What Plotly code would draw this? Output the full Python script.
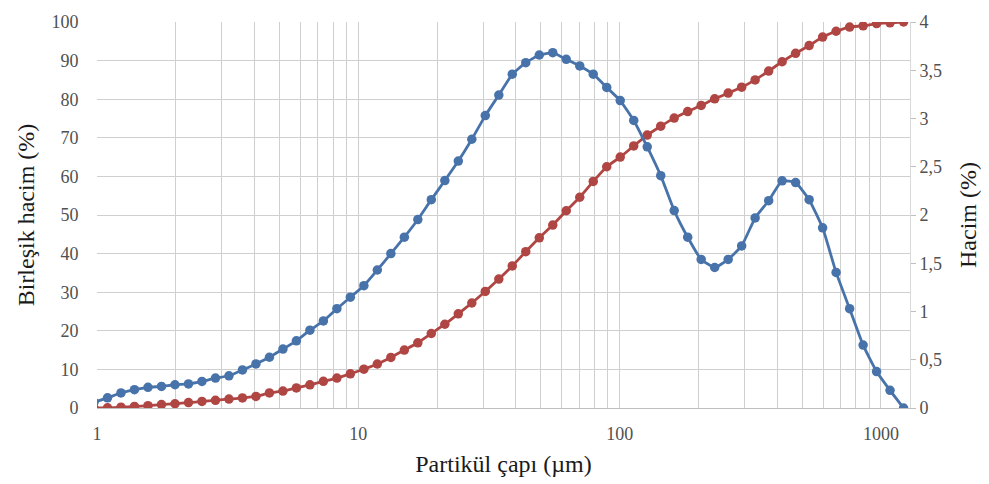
import plotly.graph_objects as go

# Particle diameter (µm), log-spaced size classes
diameter = [0.974, 1.097, 1.235, 1.391, 1.567, 1.765, 1.988, 2.239, 2.521, 2.840, 3.198,
            3.602, 4.057, 4.569, 5.146, 5.794, 6.527, 7.350, 8.278, 9.322, 10.50,
            11.82, 13.32, 15.00, 16.89, 19.02, 21.43, 24.13, 27.18, 30.61, 34.48,
            38.82, 43.72, 49.25, 55.46, 62.46, 70.36, 79.24, 89.23, 100.5, 113.2,
            127.5, 143.6, 161.7, 182.1, 205.1, 231.0, 260.2, 293.0, 329.9, 371.7,
            418.5, 471.3, 530.9, 597.9, 673.3, 758.5, 854.2, 961.9, 1083, 1220]

# Volume (%) per class – right axis
volume = [0.06, 0.105, 0.156, 0.19, 0.214, 0.224, 0.241, 0.249, 0.275, 0.31, 0.334,
          0.395, 0.457, 0.526, 0.611, 0.696, 0.806, 0.902, 1.029, 1.148, 1.268,
          1.43, 1.60, 1.77, 1.953, 2.159, 2.357, 2.559, 2.785, 3.03, 3.243,
          3.459, 3.579, 3.658, 3.682, 3.613, 3.545, 3.459, 3.322, 3.186, 2.98,
          2.706, 2.408, 2.046, 1.77, 1.54, 1.456, 1.54, 1.68, 1.97, 2.148,
          2.354, 2.336, 2.159, 1.867, 1.405, 1.029, 0.652, 0.378, 0.183, 0.0]

# Cumulative volume (%) – left axis
cumulative = [0.0, 0.05, 0.2, 0.4, 0.6, 0.9, 1.1, 1.4, 1.7, 2.0, 2.3,
              2.6, 3.0, 3.9, 4.4, 5.2, 6.0, 6.9, 7.75, 8.86, 10.06,
              11.4, 13.1, 15.0, 16.9, 19.3, 21.7, 24.4, 27.2, 30.2, 33.4,
              36.8, 40.5, 44.1, 47.4, 51.1, 54.6, 58.7, 62.5, 65.0, 67.9,
              70.7, 73.0, 75.1, 76.8, 78.4, 80.1, 81.6, 83.1, 85.0, 87.3,
              89.7, 91.9, 93.9, 96.1, 97.6, 98.7, 99.0, 99.6, 99.8, 100.0]

x_major = [1, 10, 100, 1000]
x_minor = [m * d for d in (1, 10, 100) for m in range(2, 10)] + [2000]
left_ticks = list(range(0, 101, 10))
right_ticks = [0, 0.5, 1, 1.5, 2, 2.5, 3, 3.5, 4]
right_labels = ["0", "0,5", "1", "1,5", "2", "2,5", "3", "3,5", "4"]

BLUE = "#4873aa"
RED = "#b04643"
GRID = "#cfcfcf"
FONT = "Liberation Serif"
TICK_COLOR = "#505050"
TITLE_COLOR = "#1a1a1a"

fig = go.Figure()
fig.add_trace(go.Scatter(
    x=diameter, y=cumulative, mode="lines+markers", yaxis="y",
    line=dict(color=RED, width=2.8, shape="spline", smoothing=0.4),
    marker=dict(color=RED, size=9.5), showlegend=False, cliponaxis=True))
fig.add_trace(go.Scatter(
    x=diameter, y=volume, mode="lines+markers", yaxis="y2",
    line=dict(color=BLUE, width=2.8, shape="spline", smoothing=0.4),
    marker=dict(color=BLUE, size=9.5), showlegend=False, cliponaxis=True))

fig.update_layout(
    width=989, height=484,
    margin=dict(l=97, r=79, t=19, b=75),
    paper_bgcolor="white", plot_bgcolor="white",
    font=dict(family=FONT, color=TICK_COLOR, size=18),
    xaxis=dict(
        type="log", range=[0, 3.111],
        tickmode="array", tickvals=x_major, ticktext=[str(v) for v in x_major],
        showgrid=True, gridcolor=GRID, gridwidth=1,
        minor=dict(tickmode="array", tickvals=x_minor, showgrid=True,
                   gridcolor=GRID, gridwidth=1),
        showline=True, linecolor="#bfbfbf", linewidth=1,
        ticks="outside", ticklen=9, tickcolor="rgba(0,0,0,0)",
        zeroline=False,
        title=dict(text="Partikül çapı (µm)", font=dict(family=FONT, size=24, color=TITLE_COLOR),
                   standoff=12),
        tickfont=dict(family=FONT, size=18, color=TICK_COLOR),
    ),
    yaxis=dict(
        range=[0, 100], tickmode="array", tickvals=left_ticks,
        showgrid=True, gridcolor=GRID, gridwidth=1, zeroline=False,
        showline=False,
        ticks="outside", ticklen=14, tickcolor="rgba(0,0,0,0)",
        title=dict(text="Birleşik hacim (%)", font=dict(family=FONT, size=24, color=TITLE_COLOR),
                   standoff=10),
        tickfont=dict(family=FONT, size=18, color=TICK_COLOR),
    ),
    yaxis2=dict(
        range=[0, 4], overlaying="y", side="right",
        tickmode="array", tickvals=right_ticks, ticktext=right_labels,
        showgrid=False, zeroline=False,
        showline=True, linecolor="#d9d9d9", linewidth=1,
        ticks="outside", ticklen=5, tickcolor="#bfbfbf",
        title=dict(text="Hacim (%)", font=dict(family=FONT, size=24, color=TITLE_COLOR),
                   standoff=18),
        tickfont=dict(family=FONT, size=18, color=TICK_COLOR),
    ),
)

fig.write_html("out.html")
